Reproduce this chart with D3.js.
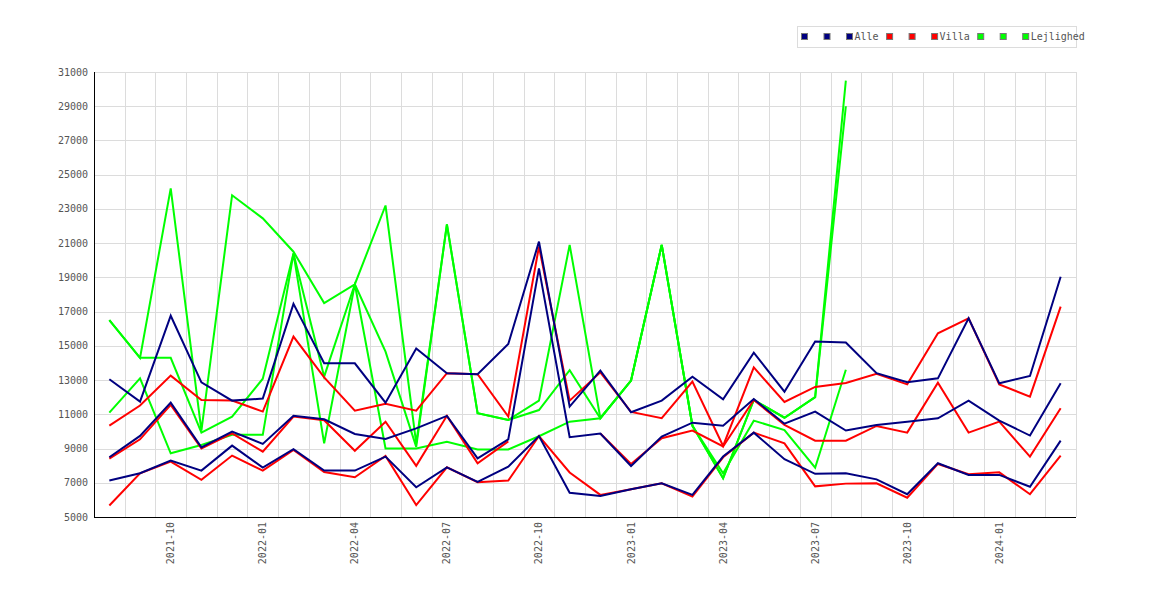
<!DOCTYPE html>
<html>
<head>
<meta charset="utf-8">
<script src="https://cdn.jsdelivr.net/npm/d3@7.9.0/dist/d3.min.js"></script>
<style>
  body { margin: 0; background: #fff; }
  text { font-family: "DejaVu Sans Mono", monospace; font-size: 10px; fill: #555; }
</style>
</head>
<body>
<svg id="chart" width="1170" height="600"></svg>
<script>
// months on the x axis
const months = [
  "2021-08", "2021-09", "2021-10", "2021-11", "2021-12", "2022-01", "2022-02", "2022-03",
  "2022-04", "2022-05", "2022-06", "2022-07", "2022-08", "2022-09", "2022-10", "2022-11",
  "2022-12", "2023-01", "2023-02", "2023-03", "2023-04", "2023-05", "2023-06", "2023-07",
  "2023-08", "2023-09", "2023-10", "2023-11", "2023-12", "2024-01", "2024-02", "2024-03"
];
const tickMonths = ["2021-10", "2022-01", "2022-04", "2022-07", "2022-10", "2023-01",
  "2023-04", "2023-07", "2023-10", "2024-01"];
const yTicks = [5000, 7000, 9000, 11000, 13000, 15000, 17000, 19000, 21000, 23000,
  25000, 27000, 29000, 31000];

// Alle
const alleA = [13050, 11740, 16760, 12870, 11800, 11920, 17450, 13980, 13980, 11680, 14840, 13400,
  13340, 15110, 21090, 11450, 13550, 11120, 11800, 13200, 11880, 14600, 12320, 15250,
  15190, 13400, 12870, 13100, 16610, 12810, 13240, 19040];
const alleB = [8490, 9740, 11680, 9070, 9990, 9270, 10920, 10710, 9850, 9560, 10180, 10910,
  8430, 9530, 19530, 9660, 9880, 7980, 9700, 10510, 10330, 11890, 10450, 11160,
  10050, 10380, 10570, 10770, 11800, 10630, 9760, 12810];
const alleC = [7130, 7555, 8295, 7710, 9170, 7890, 8960, 7710, 7710, 8530, 6740, 7900,
  7050, 7940, 9730, 6420, 6230, 6620, 6970, 6290, 8530, 9930, 8380, 7520,
  7555, 7200, 6330, 8140, 7460, 7460, 6770, 9460];

// Villa
const villaA = [10340, 11510, 13260, 11840, 11800, 11160, 15540, 13160, 11210, 11620, 11210, 13400,
  13340, 10870, 20800, 11800, 13450, 11140, 10770, 12910, 9150, 13740, 11720, 12600,
  12830, 13360, 12750, 15730, 16610, 12750, 12030, 17290];
const villaB = [8410, 9540, 11550, 9010, 9890, 8820, 10870, 10650, 8870, 10570, 7990, 10910,
  8140, 9420, null, null, 9880, 8100, 9600, 10050, 9120, 11840, 10380, 9460,
  9460, 10320, 9930, 12850, 9930, 10570, 8530, 11350];
const villaC = [5670, 7555, 8240, 7170, 8590, 7710, 8920, 7630, 7320, 8570, 5700, 7900,
  7030, 7130, 9730, 7600, 6290, 6620, 6970, 6190, 8490, 9930, 9300, 6790,
  6950, 6970, 6130, 8100, 7500, 7610, 6330, 8590];

// Lejlighed (ends 2023-08)
const lejlA = [16500, 14300, 24200, 10050, 23800, 22450, 20500, 17500, 18600, 23200, 9300, 22100,
  11060, 10670, 11800, 20900, 10770, 12970, 20900, 10330, 7260, 11840, 10800, 12000, 30500];
const lejlB = [16500, 14300, 14300, 9930, 10860, 13080, 20400, 13200, 18600, 14660, 9100, 22100,
  11060, 10670, 11250, 13580, 10770, 12970, 20900, 10330, 7260, 11840, 10800, 12000, 29000];
const lejlC = [11100, 13100, 8720, 9210, 9800, 9800, 20400, 9300, 18600, 9000, 9000, 9400,
  8950, 8950, 9720, 10570, 10770, 12970, 20900, 10330, 7550, 10630, 10080, 7880, 13600];

const series = [
  { label: "", color: "#000080", values: alleA },
  { label: "", color: "#000080", values: alleB },
  { label: "Alle", color: "#000080", values: alleC },
  { label: "", color: "#ff0000", values: villaA },
  { label: "", color: "#ff0000", values: villaB },
  { label: "Villa", color: "#ff0000", values: villaC },
  { label: "", color: "#00ff00", values: lejlA },
  { label: "", color: "#00ff00", values: lejlB },
  { label: "Lejlighed", color: "#00ff00", values: lejlC }
];

const svg = d3.select("#chart");
const plot = { left: 94, right: 1076, top: 72, bottom: 517 };

const x = d3.scaleBand().domain(months).range([plot.left, plot.right]).padding(0);
const y = d3.scaleLinear().domain([5000, 31000]).range([plot.bottom, plot.top]);
const cx = m => x(m) + x.bandwidth() / 2;

// grid
const grid = svg.append("g").attr("stroke", "#dcdcdc").attr("stroke-width", 1);
grid.selectAll("line.h")
  .data(yTicks)
  .join("line")
  .attr("class", "h")
  .attr("x1", plot.left).attr("x2", plot.right)
  .attr("y1", d => Math.round(y(d)) + 0.5).attr("y2", d => Math.round(y(d)) + 0.5);
grid.selectAll("line.v")
  .data(months.slice(1).map(m => x(m)).concat([plot.right]))
  .join("line")
  .attr("class", "v")
  .attr("x1", d => Math.round(d) + 0.5).attr("x2", d => Math.round(d) + 0.5)
  .attr("y1", plot.top).attr("y2", plot.bottom);

// y labels
svg.append("g").selectAll("text")
  .data(yTicks)
  .join("text")
  .attr("x", plot.left - 6)
  .attr("y", d => y(d))
  .attr("dy", "0.35em")
  .attr("text-anchor", "end")
  .text(d => d);

// x labels (rotated)
svg.append("g").selectAll("text")
  .data(tickMonths)
  .join("text")
  .attr("transform", d => `translate(${cx(d)},${plot.bottom + 5}) rotate(-90)`)
  .attr("dy", "0.35em")
  .attr("text-anchor", "end")
  .text(d => d);

// lines: drawn green first, navy on top
const line = d3.line()
  .defined(d => d.v != null)
  .x(d => cx(d.m))
  .y(d => y(d.v));

svg.append("g")
  .selectAll("path")
  .data(series.slice().reverse())
  .join("path")
  .attr("fill", "none")
  .attr("stroke", d => d.color)
  .attr("stroke-width", 2)
  .attr("d", d => line(d.values.map((v, i) => ({ m: months[i], v }))));

// axes
svg.append("line")
  .attr("x1", plot.left + 0.5).attr("x2", plot.left + 0.5)
  .attr("y1", plot.top).attr("y2", plot.bottom + 0.5)
  .attr("stroke", "#000");
svg.append("line")
  .attr("x1", plot.left).attr("x2", plot.right)
  .attr("y1", plot.bottom + 0.5).attr("y2", plot.bottom + 0.5)
  .attr("stroke", "#000");

// legend
const legend = svg.append("g");
legend.append("rect")
  .attr("x", 797.5).attr("y", 26.5)
  .attr("width", 279).attr("height", 21)
  .attr("fill", "#fff")
  .attr("stroke", "#dcdcdc");

let lx = 801;
series.forEach(s => {
  legend.append("rect")
    .attr("x", lx + 0.5).attr("y", 33.5)
    .attr("width", 6).attr("height", 6)
    .attr("fill", s.color)
    .attr("stroke", "#777");
  if (s.label) {
    const t = legend.append("text")
      .attr("x", lx + 8.5)
      .attr("y", 36.5)
      .attr("dy", "0.35em")
      .text(s.label);
    lx += 16 + t.node().getComputedTextLength();
  } else {
    lx += 22.5;
  }
});
</script>
</body>
</html>
